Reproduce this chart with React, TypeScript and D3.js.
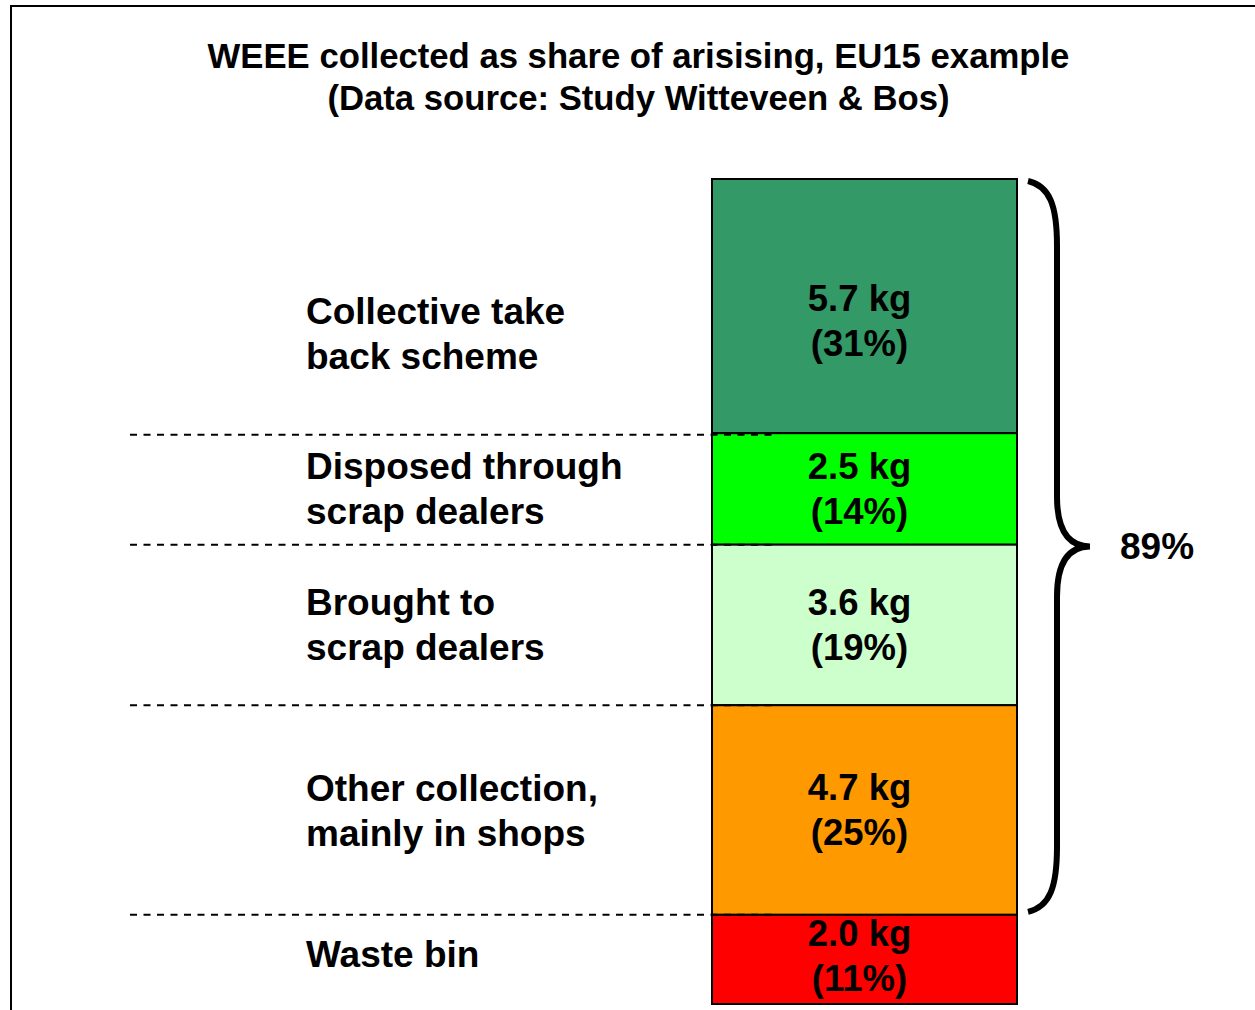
import React from "react";
import * as d3 from "d3";

const categories = [
  ["Collective take", "back scheme"],
  ["Disposed through", "scrap dealers"],
  ["Brought to", "scrap dealers"],
  ["Other collection,", "mainly in shops"],
  ["Waste bin"],
];
const valuesKg = [5.7, 2.5, 3.6, 4.7, 2.0];
const sharePct = [31, 14, 19, 25, 11];
const colors = ["#339966", "#00FF00", "#CCFFCC", "#FF9900", "#FF0000"];
const titleLines = [
  "WEEE collected as share of arisising, EU15 example",
  "(Data source: Study Witteveen & Bos)",
];
const braceLabel = "89%";
const braceCount = 4;

const W = 1255;
const H = 1010;
const FONT = "'Liberation Sans', Arial, Helvetica, sans-serif";

export default function App() {
  const total = d3.sum(valuesKg);
  const y = d3.scaleLinear().domain([0, total]).range([179, 1004]);
  const x = d3.scaleBand().domain(["EU15"]).range([712, 1017]).padding(0);
  const x0 = x("EU15")!;
  const bw = x.bandwidth();

  const stack = valuesKg.map((v, i) => {
    const start = d3.sum(valuesKg.slice(0, i));
    return { v, i, y0: y(start), y1: y(start + v) };
  });

  const bTop = y(0) + 2;
  const bBot = y(d3.sum(valuesKg.slice(0, braceCount))) - 3;
  const bMid = (bTop + bBot) / 2;
  const bx0 = x0 + bw + 11;
  const bxv = bx0 + 29;
  const bxt = bx0 + 62;
  const brace = d3.path();
  brace.moveTo(bx0, bTop);
  brace.bezierCurveTo(bx0 + 22, bTop + 5, bxv, bTop + 25, bxv, bTop + 65);
  brace.lineTo(bxv, bMid - 50);
  brace.bezierCurveTo(bxv, bMid - 15, bxv + 12, bMid, bxt, bMid);
  brace.bezierCurveTo(bxv + 12, bMid, bxv, bMid + 15, bxv, bMid + 50);
  brace.lineTo(bxv, bBot - 65);
  brace.bezierCurveTo(bxv, bBot - 25, bx0 + 22, bBot - 5, bx0, bBot);

  const cx = x0 + bw / 2 - 5;

  return (
    <svg
      width={W}
      height={H}
      style={{ position: "absolute", left: 0, top: 0, background: "#fff" }}
      fontFamily={FONT}
    >
      <rect x={11} y={6} width={W + 20} height={H + 20} fill="#fff" stroke="#000" strokeWidth={2} />
      {titleLines.map((t, i) => (
        <text key={i} x={638.5} y={68 + i * 42} textAnchor="middle" fontSize={34.7} fontWeight="bold" fill="#000">
          {t}
        </text>
      ))}
      {stack.map((s) => (
        <rect key={s.i} x={x0} y={s.y0} width={bw} height={s.y1 - s.y0} fill={colors[s.i]} stroke="#000" strokeWidth={2} />
      ))}
      {stack.slice(1).map((s) => (
        <line key={"d" + s.i} x1={130} x2={778} y1={s.y0 + (s.i === 1 ? 1.5 : 0)} y2={s.y0 + (s.i === 1 ? 1.5 : 0)} stroke="#000" strokeWidth={2} strokeDasharray="7,6.5" />
      ))}
      {stack.map((s) => {
        const mid = (s.y0 + s.y1) / 2 + (s.i === 0 ? 15 : 0) - (s.i === 4 ? 3 : 0);
        return (
          <text key={"v" + s.i} x={cx} textAnchor="middle" fontSize={36.5} fontWeight="bold" fill="#000">
            <tspan x={cx} y={mid - 22 + 12}>{`${valuesKg[s.i].toFixed(1)} kg`}</tspan>
            <tspan x={cx} y={mid + 22 + 13}>{`(${sharePct[s.i]}%)`}</tspan>
          </text>
        );
      })}
      {stack.map((s) => {
        const lines = categories[s.i];
        const mid = (s.y0 + s.y1) / 2 + (s.i === 0 ? 27 : 0) - (s.i === 4 ? 5 : 0);
        const lh = 45;
        const first = mid - ((lines.length - 1) * lh) / 2;
        return (
          <text key={"c" + s.i} fontSize={37} fontWeight="bold" fill="#000">
            {lines.map((l, j) => (
              <tspan key={j} x={306} y={first + j * lh + 13}>{l}</tspan>
            ))}
          </text>
        );
      })}
      <path d={brace.toString()} fill="none" stroke="#000" strokeWidth={6} strokeLinecap="butt" />
      <text x={1120} y={bMid + 13} fontSize={37} fontWeight="bold" fill="#000">{braceLabel}</text>
    </svg>
  );
}
